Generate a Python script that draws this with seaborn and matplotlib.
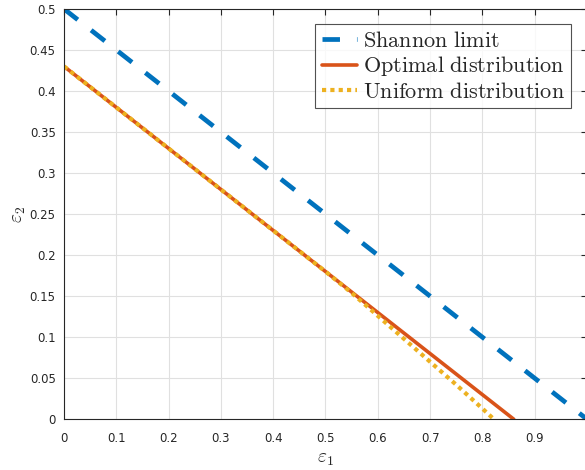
import numpy as np
import pandas as pd
import matplotlib
matplotlib.use("Agg")
import matplotlib.pyplot as plt
import seaborn as sns

# data
shannon_x = [0.0, 1.0]
shannon_y = [0.5, 0.0]

optimal_x = [0.0, 0.86]
optimal_y = [0.43, 0.0]

uniform_x = [0.0, 0.1, 0.2, 0.3, 0.4, 0.5, 0.55, 0.6, 0.65, 0.7, 0.75, 0.8, 0.822]
uniform_y = [0.43, 0.38, 0.33, 0.28, 0.23, 0.18, 0.154, 0.126, 0.098, 0.070, 0.042, 0.013, 0.0]

x_ticks = [0, 0.1, 0.2, 0.3, 0.4, 0.5, 0.6, 0.7, 0.8, 0.9, 1]
x_tick_labels = ["0", "0.1", "0.2", "0.3", "0.4", "0.5", "0.6", "0.7", "0.8", "0.9", "1"]
y_ticks = [0, 0.05, 0.1, 0.15, 0.2, 0.25, 0.3, 0.35, 0.4, 0.45, 0.5]
y_tick_labels = ["0", "0.05", "0.1", "0.15", "0.2", "0.25", "0.3", "0.35", "0.4", "0.45", "0.5"]


def main():
    sns.set_style("white")
    plt.rcParams["mathtext.fontset"] = "cm"

    fig = plt.figure(figsize=(5.85, 4.7), dpi=100)
    ax = fig.add_axes([0.1094, 0.108, 0.894, 0.873])

    blue = (0.0, 0.447, 0.741)
    orange = (0.850, 0.325, 0.098)
    yellow = (0.929, 0.694, 0.125)

    sns.lineplot(x=shannon_x, y=shannon_y, ax=ax, color=blue, lw=3.4,
                 label=r"$\mathrm{Shannon\ limit}$", sort=False)
    ax.lines[-1].set_dashes((3.7, 3.6))
    sns.lineplot(x=optimal_x, y=optimal_y, ax=ax, color=orange, lw=2.6,
                 label=r"$\mathrm{Optimal\ distribution}$", sort=False)
    sns.lineplot(x=uniform_x, y=uniform_y, ax=ax, color=yellow, lw=3.0,
                 label=r"$\mathrm{Uniform\ distribution}$", sort=False)
    ax.lines[-1].set_dashes((1.0, 1.0))

    ax.set_xlim(0, 1)
    ax.set_ylim(0, 0.5)
    ax.set_xticks(x_ticks)
    ax.set_xticklabels(x_tick_labels)
    ax.set_yticks(y_ticks)
    ax.set_yticklabels(y_tick_labels)

    dark = (0.15, 0.15, 0.15)
    ax.grid(True, color=(0.88, 0.88, 0.88), lw=0.8)
    ax.set_axisbelow(True)
    ax.tick_params(direction="in", length=4, width=0.8, colors=dark,
                   labelsize=8.5, top=True, right=True)
    ax.tick_params(axis="x", pad=9)
    ax.tick_params(axis="y", pad=6)
    for s in ax.spines.values():
        s.set_visible(True)
        s.set_color(dark)
        s.set_linewidth(0.8)

    ax.set_xlabel(r"$\varepsilon_1$", fontsize=14, color=dark, labelpad=3)
    ax.set_ylabel(r"$\varepsilon_2$", fontsize=14, color=dark, labelpad=1)

    leg = ax.legend(loc="upper right", fontsize=16, frameon=True, fancybox=False,
                    edgecolor=dark, handlelength=1.6, handletextpad=0.25,
                    borderpad=0.3, labelspacing=0.15, borderaxespad=0.7)
    leg.get_frame().set_linewidth(0.8)

    fig.savefig("out.png", dpi=100)


if __name__ == "__main__":
    main()
